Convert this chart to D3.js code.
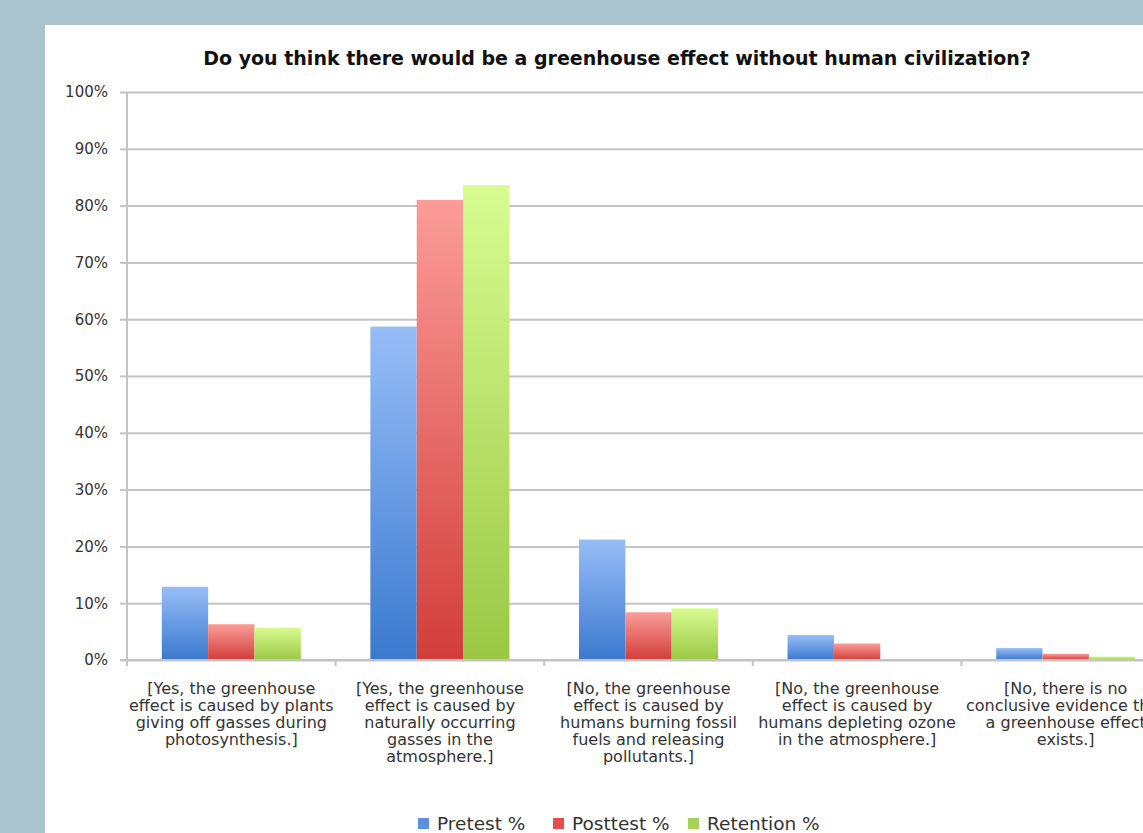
<!DOCTYPE html>
<html>
<head>
<meta charset="utf-8">
<script src="https://cdn.jsdelivr.net/npm/d3@7"></script>
<style>
  html, body { margin: 0; padding: 0; background: #a9c4cc; overflow: hidden; }
  svg { display: block; }
</style>
</head>
<body>
<svg id="chart" width="1143" height="833"></svg>
<script>
// Survey answers (category labels, one line per entry)
const categories = [
  ["[Yes, the greenhouse", "effect is caused by plants", "giving off gasses during", "photosynthesis.]"],
  ["[Yes, the greenhouse", "effect is caused by", "naturally occurring", "gasses in the", "atmosphere.]"],
  ["[No, the greenhouse", "effect is caused by", "humans burning fossil", "fuels and releasing", "pollutants.]"],
  ["[No, the greenhouse", "effect is caused by", "humans depleting ozone", "in the atmosphere.]"],
  ["[No, there is no", "conclusive evidence that", "a greenhouse effect", "exists.]"]
];
const seriesNames = ["Pretest %", "Posttest %", "Retention %"];
const pretest   = [12.9, 58.7, 21.2, 4.4, 2.1];
const posttest  = [6.3, 81.0, 8.4, 2.9, 1.1];
const retention = [5.7, 83.6, 9.1, 0, 0.6];
const yTicks = [0, 10, 20, 30, 40, 50, 60, 70, 80, 90, 100];
const title = "Do you think there would be a greenhouse effect without human civilization?";

const seriesValues = [pretest, posttest, retention];
const gradStops = [
  ["#97bdf7", "#3a79cf"],
  ["#fb9c98", "#d23d3a"],
  ["#d8fc90", "#9bc744"]
];
const legendColors = ["#5b90de", "#e0504d", "#a6d25a"];

const svg = d3.select("#chart");
const W = 1143, H = 833;

// white chart panel on the slate background
svg.append("rect").attr("x", 45).attr("y", 25).attr("width", W).attr("height", H)
  .attr("fill", "#ffffff");

const plot = { left: 127, right: 1170, top: 92, bottom: 660 };

const x0 = d3.scaleBand().domain(d3.range(categories.length))
  .range([plot.left, plot.right]).paddingInner(0).paddingOuter(0);
const bw = x0.bandwidth();
const barW = bw / 4.5; // 150% gap width
const x1 = d3.scaleBand().domain(d3.range(seriesNames.length))
  .range([(bw - 3 * barW) / 2, (bw + 3 * barW) / 2]).padding(0);
const y = d3.scaleLinear().domain([0, 100]).range([plot.bottom, plot.top]);

// gradients for bars
const defs = svg.append("defs");
gradStops.forEach((s, i) => {
  const g = defs.append("linearGradient").attr("id", "grad" + i)
    .attr("x1", 0).attr("y1", 0).attr("x2", 0).attr("y2", 1);
  g.append("stop").attr("offset", "0%").attr("stop-color", s[0]);
  g.append("stop").attr("offset", "100%").attr("stop-color", s[1]);
});

// title
svg.append("text").attr("x", 617).attr("y", 65)
  .attr("text-anchor", "middle")
  .attr("font-family", "DejaVu Sans").attr("font-weight", "bold")
  .attr("font-size", 19).attr("fill", "#111")
  .text(title);

// horizontal gridlines and percentage labels
const yAxis = d3.axisLeft(y).tickValues(yTicks).tickFormat(d => d + "%")
  .tickSize(-(plot.right - plot.left)).tickPadding(19);
const gy = svg.append("g").attr("transform", `translate(${plot.left},0)`).call(yAxis);
gy.select(".domain").remove();
gy.selectAll(".tick line").attr("stroke", "#c4c4c4").attr("stroke-width", 2);
gy.selectAll(".tick text")
  .attr("font-family", "DejaVu Sans").attr("font-size", 15).attr("fill", "#333");
// small outer tick marks left of the axis
gy.selectAll(".tick").append("line").attr("x1", -7).attr("x2", 0)
  .attr("stroke", "#c4c4c4").attr("stroke-width", 2);

// vertical axis line
svg.append("line").attr("x1", plot.left).attr("x2", plot.left)
  .attr("y1", plot.top).attr("y2", plot.bottom)
  .attr("stroke", "#c4c4c4").attr("stroke-width", 2);

// bars
const groups = svg.append("g").selectAll("g").data(categories).join("g")
  .attr("transform", (d, i) => `translate(${x0(i)},0)`);
groups.selectAll("rect")
  .data((d, i) => seriesValues.map((vals, s) => ({ s, v: vals[i] })))
  .join("rect")
  .attr("x", d => x1(d.s))
  .attr("width", x1.bandwidth())
  .attr("y", d => y(d.v))
  .attr("height", d => y(0) - y(d.v))
  .attr("fill", d => `url(#grad${d.s})`);

// category axis with boundary ticks
const xb = svg.append("g");
xb.append("line").attr("x1", plot.left - 7).attr("x2", plot.right)
  .attr("y1", plot.bottom).attr("y2", plot.bottom)
  .attr("stroke", "#c4c4c4").attr("stroke-width", 2);
xb.selectAll("line.b").data(d3.range(categories.length + 1)).join("line")
  .attr("class", "b")
  .attr("x1", i => plot.left + i * bw).attr("x2", i => plot.left + i * bw)
  .attr("y1", plot.bottom).attr("y2", plot.bottom + 6)
  .attr("stroke", "#c4c4c4").attr("stroke-width", 2);

// category labels
const labels = svg.append("g").selectAll("text").data(categories).join("text")
  .attr("text-anchor", "middle")
  .attr("font-family", "DejaVu Sans").attr("font-size", 16).attr("fill", "#333")
  .attr("transform", (d, i) => `translate(${x0(i) + bw / 2},694)`);
labels.selectAll("tspan").data(d => d).join("tspan")
  .attr("x", 0).attr("dy", (d, j) => j === 0 ? 0 : 17)
  .text(d => d);

// legend
const legendX = [418, 553, 688];
const leg = svg.append("g").selectAll("g").data(seriesNames).join("g")
  .attr("transform", (d, i) => `translate(${legendX[i]},0)`);
leg.append("rect").attr("x", 0).attr("y", 818).attr("width", 11).attr("height", 11)
  .attr("fill", (d, i) => legendColors[i]);
leg.append("text").attr("x", 19).attr("y", 830)
  .attr("font-family", "DejaVu Sans").attr("font-size", 18.5).attr("fill", "#333")
  .text(d => d);
</script>
</body>
</html>
